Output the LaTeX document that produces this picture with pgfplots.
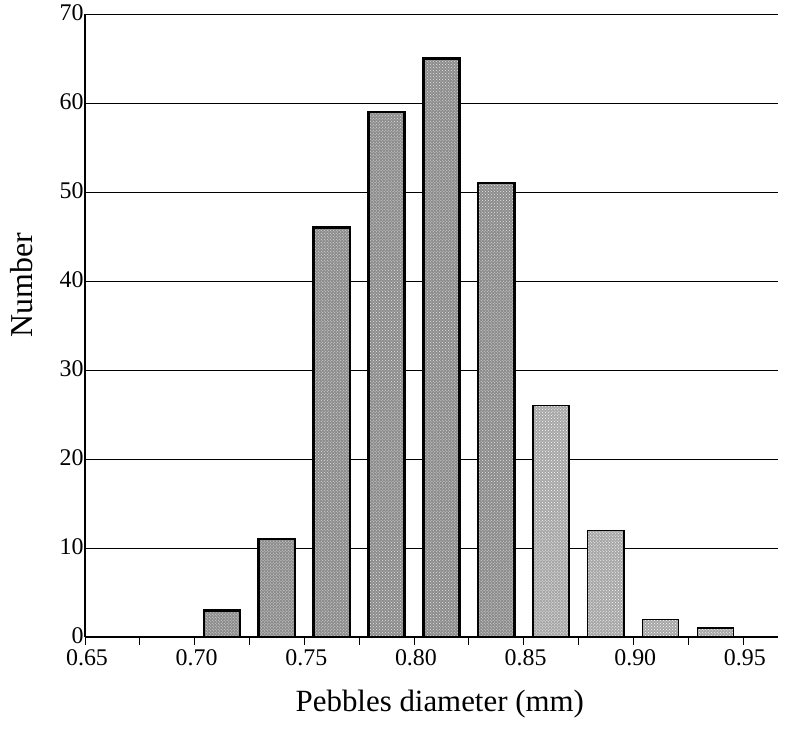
\documentclass[border=0pt]{standalone}
\usepackage{fontspec}
\setmainfont{Liberation Serif}
\usepackage{pgfplots}
\pgfplotsset{compat=1.18}
\usetikzlibrary{patterns}
\newcommand{\tf}{\fontsize{24}{26}\selectfont}
\begin{document}
\begin{tikzpicture}
\path[use as bounding box] (-85bp,-94bp) rectangle (708bp,637bp);
\begin{axis}[
  at={(0,0)}, anchor=south west,
  scale only axis, width=693bp, height=623bp,
  xmin=0.65, xmax=0.966, ymin=0, ymax=70,
  axis x line*=bottom, axis y line*=left,
  axis line style={line width=1.3bp},
  xtick={0.65,0.70,0.75,0.80,0.85,0.90,0.95},
  xticklabels={{\tf 0.65},{\tf 0.70},{\tf 0.75},{\tf 0.80},{\tf 0.85},{\tf 0.90},{\tf 0.95}},
  minor xtick={0.675,0.725,0.775,0.825,0.875,0.925},
  xtick pos=bottom, tick align=inside,
  major tick length=8bp, minor tick length=8bp,
  every tick/.style={black, line width=0.8bp},
  ytick={0,10,...,70},
  yticklabels={{\tf 0},{\tf 10},{\tf 20},{\tf 30},{\tf 40},{\tf 50},{\tf 60},{\tf 70}},
  ytick style={draw=none},
  ymajorgrids, grid style={black, line width=1bp},
  /pgf/number format/assume math mode=true,
  xticklabel style={yshift=-1bp, xshift=2bp},
  yticklabel style={xshift=2bp, yshift=1bp},
  xlabel={Pebbles diameter (mm)},
  ylabel={Number},
  xlabel style={font=\fontsize{31}{33}\selectfont, at={(axis description cs:0.512,-0.119)}, anchor=base},
  ylabel style={font=\fontsize{32}{34}\selectfont, at={(axis description cs:-0.091,0.565)}, anchor=center},
  ybar, bar shift=0pt, bar width=0.0165,
  clip=false,
]
\addplot[draw=black, line width=2.6bp, fill=gray!90,
  postaction={pattern=crosshatch dots, pattern color=white!80!gray}]
  coordinates {(0.7125,3) (0.7375,11) (0.7625,46) (0.7875,59) (0.8125,65) (0.8375,51)};
\addplot[draw=black, line width=1.4bp, fill=gray!70,
  postaction={pattern=crosshatch dots, pattern color=white}]
  coordinates {(0.8625,26) (0.8875,12) (0.9125,2) (0.9375,1)};
\end{axis}
\end{tikzpicture}
\end{document}
